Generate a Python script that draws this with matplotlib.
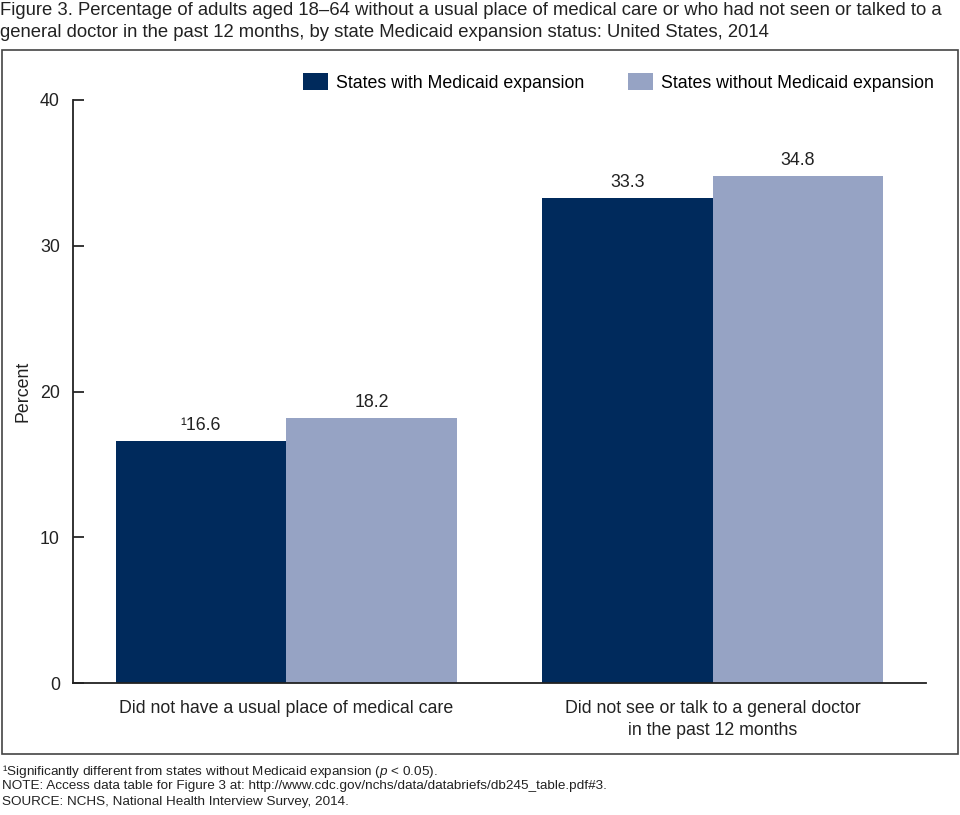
import matplotlib
matplotlib.use('Agg')
from matplotlib import pyplot as plt
from matplotlib.patches import Rectangle
import numpy as np

plt.rcParams['font.family'] = ['Liberation Sans', 'DejaVu Sans']
plt.rcParams['mathtext.fontset'] = 'custom'
plt.rcParams['mathtext.rm'] = 'Liberation Sans'
plt.rcParams['mathtext.it'] = 'Liberation Sans:italic'

categories = ['Did not have a usual place of medical care',
              'Did not see or talk to a general doctor\nin the past 12 months']
with_expansion = [16.6, 33.3]
without_expansion = [18.2, 34.8]
with_labels = ['\u00b916.6', '33.3']
without_labels = ['18.2', '34.8']
series_names = ['States with Medicaid expansion', 'States without Medicaid expansion']
yticks = [0, 10, 20, 30, 40]

dark = '#002a5c'
light = '#96a3c4'
fs = 12.8

W, H = 960, 815
fig = plt.figure(figsize=(9.6, 8.15), dpi=100)
ax = fig.add_axes([73 / W, 1 - 683 / H, (926 - 73) / W, (683 - 100) / H])

x = np.arange(len(categories))
w = 0.4
b1 = ax.bar(x - w / 2, with_expansion, w, color=dark, label=series_names[0])
b2 = ax.bar(x + w / 2, without_expansion, w, color=light, label=series_names[1])

for bars, labels in [(b1, with_labels), (b2, without_labels)]:
    for rect, lab in zip(bars, labels):
        ax.annotate(lab, (rect.get_x() + rect.get_width() / 2, rect.get_height()),
                    xytext=(0, 5), textcoords='offset points',
                    ha='center', va='bottom', fontsize=fs, color='#222222')

ax.set_xlim(-0.5, 1.5)
ax.set_ylim(0, 40)
ax.set_yticks(yticks)
ax.set_xticks(x)
ax.set_xticklabels(categories, fontsize=fs, color='#222222', linespacing=1.4)
ax.tick_params(axis='x', length=0, pad=12)
ax.tick_params(axis='y', direction='in', length=8, width=1.1, labelsize=fs,
               pad=9.5, labelcolor='#222222')
for s in ['top', 'right']:
    ax.spines[s].set_visible(False)
for s in ['left', 'bottom']:
    ax.spines[s].set_linewidth(1.3)
    ax.spines[s].set_color('#222222')
ax.set_ylabel('Percent', fontsize=fs, color='#222222', labelpad=6)

leg = ax.legend(loc='upper left', bbox_to_anchor=((303 - 73) / 853, (683 - 73) / 583),
                ncol=2, frameon=False, borderpad=0, borderaxespad=0,
                fontsize=fs, handlelength=1.4, handleheight=1.1, handletextpad=0.45,
                columnspacing=2.45)

fig.text(0 / W, 1 - 2 / H,
         'Figure 3. Percentage of adults aged 18\u201364 without a usual place of medical care or who had not seen or talked to a\n'
         'general doctor in the past 12 months, by state Medicaid expansion status: United States, 2014',
         ha='left', va='top', fontsize=13.3, color='#222222', linespacing=1.35)

fig.add_artist(Rectangle((1.5 / W, 1 - 754 / H), (958 - 1.5) / W, (754 - 50) / H,
                         transform=fig.transFigure, fill=False,
                         edgecolor='#444444', linewidth=1.2))

notes = ['\u00b9Significantly different from states without Medicaid expansion ($\\it{p}$ < 0.05).',
         'NOTE: Access data table for Figure 3 at: http://www.cdc.gov/nchs/data/databriefs/db245_table.pdf#3.',
         'SOURCE: NCHS, National Health Interview Survey, 2014.']
for i, t in enumerate(notes):
    fig.text(2 / W, 1 - (771 + 15.5 * i) / H, t, ha='left', va='center',
             fontsize=9.7, color='#222222')

fig.savefig('out.png', dpi=100)
